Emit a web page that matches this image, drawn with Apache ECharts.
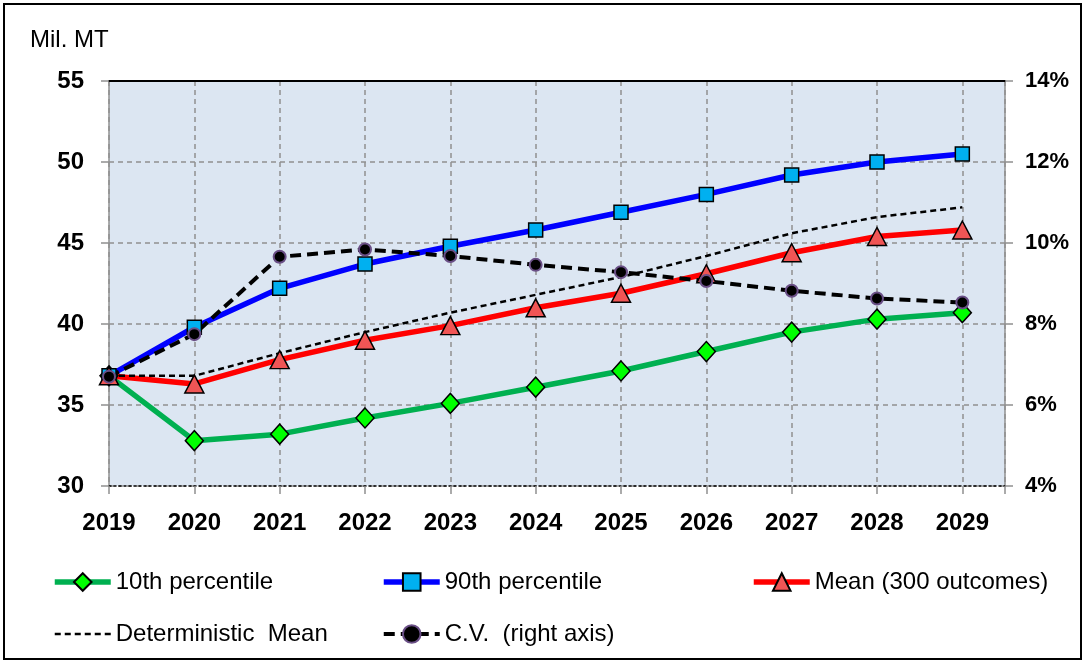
<!DOCTYPE html>
<html>
<head>
<meta charset="utf-8">
<script src="https://cdn.jsdelivr.net/npm/echarts@6/dist/echarts.min.js"></script>
<style>
  html, body { margin: 0; padding: 0; background: #fff; }
  #chart { width: 1086px; height: 662px; }
</style>
</head>
<body>
<div id="chart"></div>
<script>
// values
var years = [2019, 2020, 2021, 2022, 2023, 2024, 2025, 2026, 2027, 2028, 2029];
var p10 = [36.8, 32.8, 33.2, 34.2, 35.1, 36.1, 37.1, 38.3, 39.5, 40.3, 40.7];
var p90 = [36.8, 39.8, 42.2, 43.7, 44.8, 45.8, 46.9, 48.0, 49.2, 50.0, 50.5];
var meanOut = [36.8, 36.3, 37.8, 39.0, 39.9, 41.0, 41.9, 43.1, 44.4, 45.4, 45.8];
var detMean = [36.8, 36.8, 38.2, 39.5, 40.7, 41.8, 42.9, 44.2, 45.6, 46.6, 47.2];
var cvPct = [6.7, 7.75, 9.66, 9.84, 9.68, 9.46, 9.28, 9.06, 8.82, 8.63, 8.53];

var seriesNames = ['10th percentile', '90th percentile', 'Mean (300 outcomes)',
    'Deterministic  Mean', 'C.V.  (right axis)'];

var FONT = "'Liberation Sans', Arial, sans-serif";
var GRID_COLOR = '#909090';

function pairs(values) {
    return years.map(function (y, i) { return [y, values[i]]; });
}

var chart = echarts.init(document.getElementById('chart'));

var legendBase = {
    orient: 'vertical',
    top: 565,
    itemWidth: 56,
    itemHeight: 22,
    itemGap: 28,
    lineStyle: { width: 'inherit' },
    textStyle: { fontFamily: FONT, fontSize: 24, color: '#000' }
};

var option = {
    animation: false,
    backgroundColor: '#fff',
    textStyle: { fontFamily: FONT },
    graphic: [{
        type: 'rect',
        shape: { x: 4, y: 4, width: 1077, height: 655 },
        style: { fill: 'none', stroke: '#000', lineWidth: 2 },
        silent: true
    }],
    title: {
        text: 'Mil. MT',
        left: 25,
        top: 23,
        textStyle: { fontFamily: FONT, fontSize: 24, fontWeight: 'normal', color: '#000' }
    },
    legend: [
        Object.assign({
            left: 47,
            data: [seriesNames[0], {
                name: seriesNames[3],
                itemStyle: { color: 'transparent', borderColor: 'transparent', borderWidth: 0 }
            }]
        }, legendBase),
        Object.assign({ left: 376, data: [seriesNames[1], seriesNames[4]] }, legendBase),
        Object.assign({ left: 746, data: [seriesNames[2]] }, legendBase)
    ],
    grid: {
        left: 109, right: 81, top: 81, bottom: 176,
        show: true, backgroundColor: '#dce6f2', borderWidth: 0
    },
    xAxis: [{
        type: 'value',
        min: 2019,
        max: 2029.5,
        interval: 1,
        axisLine: { onZero: false, lineStyle: { color: '#000', width: 1.5, type: [2, 3] } },
        axisTick: { show: true, length: 8, lineStyle: { color: GRID_COLOR, width: 1.5 } },
        axisLabel: {
            margin: 25,
            fontSize: 24, fontWeight: 'bold', color: '#000', fontFamily: FONT,
            formatter: function (v) { return v % 1 === 0 ? String(v) : ''; }
        },
        splitLine: { show: true, lineStyle: { color: GRID_COLOR, width: 1.5, type: [5, 4] } }
    }, {
        type: 'value',
        position: 'top',
        min: 2019,
        max: 2029.5,
        axisLine: { lineStyle: { color: '#000', width: 2 } },
        axisTick: { show: false },
        axisLabel: { show: false },
        splitLine: { show: false }
    }],
    yAxis: [{
        type: 'value',
        min: 30,
        max: 55,
        interval: 5,
        axisLine: { show: true, lineStyle: { color: GRID_COLOR, width: 1.5 } },
        axisTick: { show: true, length: 8, lineStyle: { color: GRID_COLOR, width: 1.5 } },
        axisLabel: { margin: 25, fontSize: 24, fontWeight: 'bold', color: '#000', fontFamily: FONT },
        splitLine: { show: true, lineStyle: { color: GRID_COLOR, width: 1.5, type: [5, 4] } }
    }, {
        type: 'value',
        position: 'right',
        min: 4,
        max: 14,
        interval: 2,
        axisLine: { show: true, lineStyle: { color: GRID_COLOR, width: 1.5 } },
        axisTick: { show: true, length: 8, lineStyle: { color: GRID_COLOR, width: 1.5 } },
        axisLabel: { margin: 20, fontSize: 22, fontWeight: 'bold', color: '#000', fontFamily: FONT, formatter: '{value}%' },
        splitLine: { show: false }
    }],
    series: [{
        name: seriesNames[0],
        type: 'line',
        data: pairs(p10),
        lineStyle: { color: '#00b050', width: 5.5 },
        symbol: 'diamond',
        symbolSize: [18, 20],
        itemStyle: { color: '#00ff00', borderColor: '#000', borderWidth: 1.5 }
    }, {
        name: seriesNames[1],
        type: 'line',
        data: pairs(p90),
        lineStyle: { color: '#0000ff', width: 5.5 },
        symbol: 'rect',
        symbolSize: 14,
        itemStyle: { color: '#00b0f0', borderColor: '#000', borderWidth: 1.5 }
    }, {
        name: seriesNames[2],
        type: 'line',
        data: pairs(meanOut),
        lineStyle: { color: '#ff0000', width: 5.5 },
        symbol: 'triangle',
        symbolSize: [19, 18],
        itemStyle: { color: '#f05555', borderColor: '#000', borderWidth: 1.5 }
    }, {
        name: seriesNames[3],
        type: 'line',
        data: pairs(detMean),
        lineStyle: { color: '#000', width: 2.5, type: [6, 4] },
        itemStyle: { color: '#000' },
        symbol: 'none'
    }, {
        name: seriesNames[4],
        type: 'line',
        yAxisIndex: 1,
        data: pairs(cvPct),
        lineStyle: { color: '#000', width: 4, type: [11, 6] },
        symbol: 'circle',
        symbolSize: 12,
        itemStyle: { color: '#000', borderColor: '#6a4f86', borderWidth: 2 }
    }]
};

chart.setOption(option);
</script>
</body>
</html>
